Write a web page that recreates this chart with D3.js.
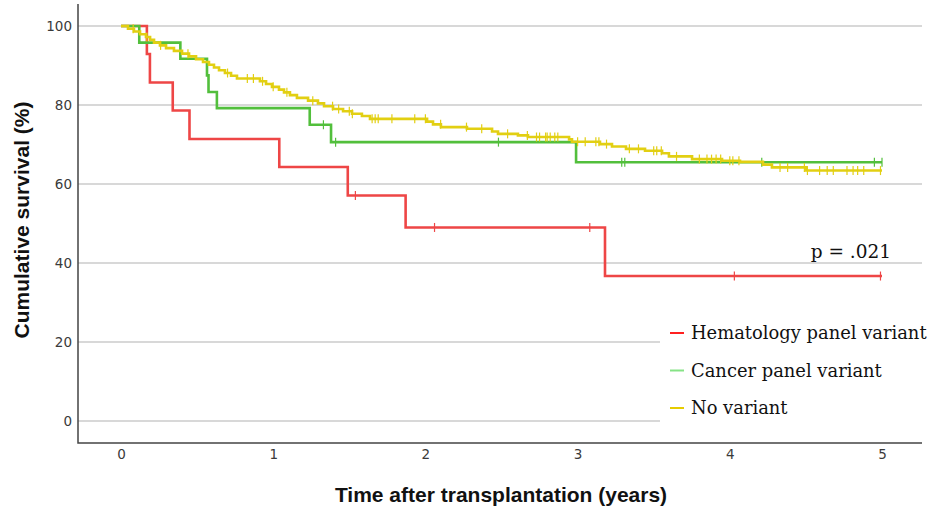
<!DOCTYPE html>
<html>
<head>
<meta charset="utf-8">
<script src="https://cdn.jsdelivr.net/npm/d3@7"></script>
<style>
  html, body { margin: 0; padding: 0; background: #fff; }
  svg { display: block; }
</style>
</head>
<body>
<svg id="chart" width="937" height="511"></svg>
<script>
// Kaplan–Meier survival after transplantation, by germline variant group.
// Step curves: drop times (years) and survival (%) after each drop.
const hemaTimes  = [0, 0.17, 0.19, 0.34, 0.45, 1.04, 1.49, 1.87, 3.18];
const hemaSurv   = [100, 92.9, 85.7, 78.6, 71.4, 64.3, 57.1, 49.0, 36.7];
const hemaCensor = [1.54, 2.06, 3.08, 4.03, 4.99];

const cancerTimes  = [0, 0.12, 0.39, 0.565, 0.575, 0.63, 1.24, 1.38, 2.99];
const cancerSurv   = [100, 95.8, 91.7, 87.5, 83.3, 79.2, 75.0, 70.6, 65.5];
const cancerCensor = [1.33, 1.41, 2.48, 3.29, 3.31, 4.21, 4.95, 5.0];

const noneTimes = [0, 0.046, 0.085, 0.125, 0.164, 0.191, 0.217, 0.256, 0.296, 0.348,
  0.401, 0.447, 0.493, 0.539, 0.578, 0.611, 0.644, 0.683, 0.723, 0.762,
  0.913, 0.953, 0.992, 1.038, 1.071, 1.110, 1.156, 1.229, 1.294, 1.334,
  1.393, 1.459, 1.518, 1.583, 1.636, 2.011, 2.050, 2.102, 2.273, 2.438,
  2.477, 2.608, 2.674, 2.944, 2.963, 3.147, 3.226, 3.318, 3.443, 3.555,
  3.600, 3.752, 3.949, 4.067, 4.218, 4.277, 4.501];
const noneSurv = [100, 99.3, 98.6, 97.9, 97.2, 96.5, 95.8, 95.1, 94.4, 93.7,
  93.0, 92.3, 91.6, 90.9, 90.2, 89.5, 88.8, 88.1, 87.4, 86.7,
  86.0, 85.3, 84.6, 83.9, 83.2, 82.5, 81.8, 81.1, 80.4, 79.7,
  79.0, 78.4, 77.8, 77.2, 76.5, 75.8, 75.1, 74.4, 74.0, 73.3,
  72.7, 72.3, 71.9, 71.3, 70.7, 70.1, 69.5, 68.9, 68.4, 67.8,
  67.0, 66.3, 65.9, 65.6, 64.9, 64.2, 63.4];
const noneCensor = [0.08, 0.17, 0.26, 0.44, 0.70, 0.83, 0.87, 0.93, 1.00, 1.09,
  1.26, 1.39, 1.43, 1.50, 1.52, 1.65, 1.67, 1.69, 1.78, 1.93,
  2.00, 2.10, 2.27, 2.37, 2.54, 2.67, 2.73, 2.75, 2.79, 2.80,
  2.82, 2.85, 2.87, 3.00, 3.05, 3.12, 3.14, 3.19, 3.34, 3.40,
  3.50, 3.52, 3.55, 3.65, 3.80, 3.85, 3.88, 3.91, 3.94, 4.00,
  4.02, 4.06, 4.33, 4.38, 4.49, 4.51, 4.59, 4.64, 4.68, 4.77,
  4.81, 4.84, 4.88, 4.99];

const followUpEnd = 5;
const groupNames = ["Hematology panel variant", "Cancer panel variant", "No variant"];
const xTicks = [0, 1, 2, 3, 4, 5];
const yTicks = [0, 20, 40, 60, 80, 100];
const pLabel = "p = .021";

const groups = [
  { name: groupNames[0], times: hemaTimes, surv: hemaSurv, censor: hemaCensor,
    color: "#ee4646", key: "#ff2020" },
  { name: groupNames[1], times: cancerTimes, surv: cancerSurv, censor: cancerCensor,
    color: "#52bf3c", key: "#86e386" },
  { name: groupNames[2], times: noneTimes, surv: noneSurv, censor: noneCensor,
    color: "#e2cf12", key: "#e6cc00" }
];

const svg = d3.select("#chart");

const x = d3.scaleLinear().domain([0, 5]).range([121, 882]);
const y = d3.scaleLinear().domain([0, 100]).range([421, 26]);
const frame = { left: 78, right: 922, top: 4, bottom: 443 };

// Horizontal gridlines
svg.append("g")
  .selectAll("line")
  .data(yTicks)
  .join("line")
  .attr("x1", frame.left)
  .attr("x2", frame.right)
  .attr("y1", d => y(d))
  .attr("y2", d => y(d))
  .attr("stroke", "#cbcbcb")
  .attr("stroke-width", 1.5);

// Axes (labels only, spines drawn separately)
const yAxis = svg.append("g")
  .attr("transform", `translate(${frame.left},0)`)
  .call(d3.axisLeft(y).tickValues(yTicks).tickFormat(d3.format("d")).tickSize(0).tickPadding(6));
const xAxis = svg.append("g")
  .attr("transform", `translate(0,${frame.bottom})`)
  .call(d3.axisBottom(x).tickValues(xTicks).tickFormat(d3.format("d")).tickSize(0).tickPadding(6));
[yAxis, xAxis].forEach(a => {
  a.select(".domain").remove();
  a.selectAll("text")
    .attr("font-family", "'DejaVu Sans', sans-serif")
    .attr("font-size", 13.5)
    .attr("fill", "#3a3a3a");
});

svg.append("path")
  .attr("d", `M${frame.left},${frame.top}V${frame.bottom}H${frame.right}`)
  .attr("fill", "none")
  .attr("stroke", "#444")
  .attr("stroke-width", 1.5);

// Survival step value at time t
function survAt(g, t) {
  let v = g.surv[0];
  for (let i = 0; i < g.times.length; i++) {
    if (g.times[i] <= t) v = g.surv[i];
  }
  return v;
}

const line = d3.line()
  .x(d => x(d[0]))
  .y(d => y(d[1]))
  .curve(d3.curveStepAfter);

const curves = svg.append("g");
groups.forEach(g => {
  const pts = g.times.map((t, i) => [t, g.surv[i]]);
  pts.push([followUpEnd, g.surv[g.surv.length - 1]]);
  const grp = curves.append("g");
  grp.append("path")
    .attr("d", line(pts))
    .attr("fill", "none")
    .attr("stroke", g.color)
    .attr("stroke-width", 2.6)
    .attr("stroke-linejoin", "miter");
  grp.selectAll("line")
    .data(g.censor)
    .join("line")
    .attr("x1", d => x(d))
    .attr("x2", d => x(d))
    .attr("y1", d => y(survAt(g, d)) - 4.5)
    .attr("y2", d => y(survAt(g, d)) + 4.5)
    .attr("stroke", g.color)
    .attr("stroke-width", 1.2);
});

// p-value annotation
svg.append("text")
  .attr("x", 891)
  .attr("y", 258)
  .attr("text-anchor", "end")
  .attr("font-family", "'DejaVu Serif', serif")
  .attr("font-size", 18.5)
  .attr("fill", "#111")
  .text(pLabel);

// Legend
const legend = svg.append("g");
legend.append("rect")
  .attr("x", 660).attr("y", 305)
  .attr("width", 277).attr("height", 125)
  .attr("fill", "#fff");
groupNames.forEach((name, i) => {
  const cy = 333 + i * 37.5;
  legend.append("line")
    .attr("x1", 670).attr("x2", 684)
    .attr("y1", cy).attr("y2", cy)
    .attr("stroke", groups[i].key)
    .attr("stroke-width", 2);
  legend.append("text")
    .attr("x", 691)
    .attr("y", cy + 6)
    .attr("font-family", "'DejaVu Serif', serif")
    .attr("font-size", 17.9)
    .attr("fill", "#111")
    .text(name);
});

// Axis titles
svg.append("text")
  .attr("x", 501)
  .attr("y", 502)
  .attr("text-anchor", "middle")
  .attr("font-family", "'Liberation Sans', Arial, sans-serif")
  .attr("font-weight", "bold")
  .attr("font-size", 21)
  .attr("fill", "#111")
  .text("Time after transplantation (years)");

svg.append("text")
  .attr("transform", "translate(29,220) rotate(-90)")
  .attr("text-anchor", "middle")
  .attr("font-family", "'Liberation Sans', Arial, sans-serif")
  .attr("font-weight", "bold")
  .attr("font-size", 21)
  .attr("fill", "#111")
  .text("Cumulative survival (%)");
</script>
</body>
</html>
